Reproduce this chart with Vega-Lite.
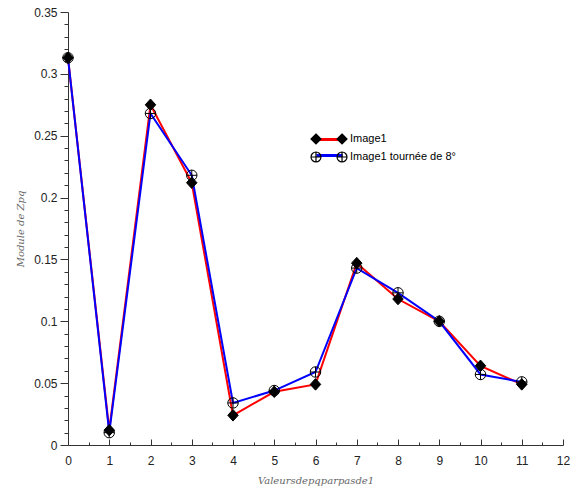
{
  "$schema": "https://vega.github.io/schema/vega-lite/v6.json",
  "width": 495,
  "height": 433,
  "autosize": {"type": "none"},
  "padding": {"left": 68, "top": 12, "right": 13, "bottom": 45},
  "background": "white",
  "config": {
    "view": {"stroke": null},
    "font": "Liberation Sans",
    "axis": {"grid": false, "domainColor": "#333333", "tickColor": "#333333", "labelColor": "#222222", "labelFont": "Liberation Sans", "labelFontSize": 12}
  },
  "data": {
    "values": [
      {"p": 0, "module": 0.313, "serie": "Image1"},
      {"p": 1, "module": 0.012, "serie": "Image1"},
      {"p": 2, "module": 0.275, "serie": "Image1"},
      {"p": 3, "module": 0.212, "serie": "Image1"},
      {"p": 4, "module": 0.024, "serie": "Image1"},
      {"p": 5, "module": 0.043, "serie": "Image1"},
      {"p": 6, "module": 0.049, "serie": "Image1"},
      {"p": 7, "module": 0.147, "serie": "Image1"},
      {"p": 8, "module": 0.118, "serie": "Image1"},
      {"p": 9, "module": 0.100, "serie": "Image1"},
      {"p": 10, "module": 0.064, "serie": "Image1"},
      {"p": 11, "module": 0.049, "serie": "Image1"},
      {"p": 0, "module": 0.313, "serie": "Image1 tournée de 8°"},
      {"p": 1, "module": 0.010, "serie": "Image1 tournée de 8°"},
      {"p": 2, "module": 0.268, "serie": "Image1 tournée de 8°"},
      {"p": 3, "module": 0.218, "serie": "Image1 tournée de 8°"},
      {"p": 4, "module": 0.034, "serie": "Image1 tournée de 8°"},
      {"p": 5, "module": 0.044, "serie": "Image1 tournée de 8°"},
      {"p": 6, "module": 0.059, "serie": "Image1 tournée de 8°"},
      {"p": 7, "module": 0.143, "serie": "Image1 tournée de 8°"},
      {"p": 8, "module": 0.123, "serie": "Image1 tournée de 8°"},
      {"p": 9, "module": 0.100, "serie": "Image1 tournée de 8°"},
      {"p": 10, "module": 0.057, "serie": "Image1 tournée de 8°"},
      {"p": 11, "module": 0.051, "serie": "Image1 tournée de 8°"}
    ]
  },
  "resolve": {"axis": {"x": "independent", "y": "independent"}},
  "layer": [
    {
      "mark": {"type": "line", "strokeWidth": 2},
      "encoding": {
        "x": {"field": "p", "type": "quantitative", "scale": {"domain": [0, 12], "nice": false},
          "axis": {"orient": "bottom", "values": [0,1,2,3,4,5,6,7,8,9,10,11,12], "tickSize": -6, "labelPadding": 16, "labelFlush": false,
            "title": "Valeursdepqparpasde1", "titleFont": "DejaVu Serif", "titleFontStyle": "italic", "titleFontWeight": "normal", "titleFontSize": 10, "titleColor": "#666666", "titlePadding": 9}},
        "y": {"field": "module", "type": "quantitative", "scale": {"domain": [0, 0.35], "nice": false},
          "axis": {"orient": "left", "values": [0, 0.05, 0.1, 0.15, 0.2, 0.25, 0.3, 0.35], "tickSize": 8, "labelPadding": 3,
            "labelFlush": false, "format": "~g",
            "title": "Module de Zpq", "titleFont": "DejaVu Serif", "titleFontStyle": "italic", "titleFontWeight": "normal", "titleFontSize": 10, "titleColor": "#666666", "titlePadding": 8}},
        "color": {"field": "serie", "type": "nominal",
          "scale": {"domain": ["Image1", "Image1 tournée de 8°"], "range": ["#ff0000", "#0000ff"]},
          "legend": {"orient": "none", "legendX": 254, "legendY": 120, "title": null, "padding": 0,
            "symbolType": "M-2.17,0L2.17,0", "symbolSize": 144, "symbolStrokeWidth": 3,
            "labelFontSize": 11, "labelColor": "rgba(0,0,0,0)", "labelOffset": 14, "rowPadding": 2}}
      }
    },
    {
      "mark": {"type": "point", "strokeWidth": 1, "opacity": 1},
      "encoding": {
        "x": {"field": "p", "type": "quantitative", "axis": null},
        "y": {"field": "module", "type": "quantitative", "axis": null},
        "shape": {"condition": {"test": "datum.serie === 'Image1'", "value": "M0,-1.1L1,0L0,1.1L-1,0Z"}, "value": "M-1,0A1,1 0 1,1 1,0A1,1 0 1,1 -1,0ZM-1,0L1,0M0,-1L0,1"},
        "fill": {"condition": {"test": "datum.serie === 'Image1'", "value": "#000000"}, "value": "rgba(255,255,255,0)"},
        "stroke": {"value": "#000000"},
        "size": {"value": 110}
      }
    },
    {
      "mark": {"type": "point", "opacity": 0, "filled": false},
      "encoding": {
        "x": {"field": "p", "type": "quantitative",
          "axis": {"orient": "bottom", "values": [0.5,1.5,2.5,3.5,4.5,5.5,6.5,7.5,8.5,9.5,10.5,11.5], "tickSize": -3, "labels": false, "domain": false, "title": null}},
        "y": {"field": "module", "type": "quantitative",
          "axis": {"orient": "left", "values": [0.01,0.02,0.03,0.04,0.06,0.07,0.08,0.09,0.11,0.12,0.13,0.14,0.16,0.17,0.18,0.19,0.21,0.22,0.23,0.24,0.26,0.27,0.28,0.29,0.31,0.32,0.33,0.34], "tickSize": 4, "labels": false, "domain": false, "title": null}},
        "shape": {"field": "serie", "type": "nominal",
          "scale": {"range": [
            "M-2.17,-0.83L-1.34,0L-2.17,0.83L-3,0ZM-2.17,-0.66L-1.51,0L-2.17,0.66L-2.83,0ZM-2.17,-0.5L-1.67,0L-2.17,0.5L-2.67,0ZM-2.17,-0.33L-1.84,0L-2.17,0.33L-2.5,0ZM-2.17,-0.17L-2,0L-2.17,0.17L-2.34,0ZM2.17,-0.83L3,0L2.17,0.83L1.34,0ZM2.17,-0.66L2.83,0L2.17,0.66L1.51,0ZM2.17,-0.5L2.67,0L2.17,0.5L1.67,0ZM2.17,-0.33L2.5,0L2.17,0.33L1.84,0ZM2.17,-0.17L2.34,0L2.17,0.17L2,0Z",
            "M-3,0A0.83,0.83 0 1,1 -1.34,0A0.83,0.83 0 1,1 -3,0ZM-3,0L-1.34,0M-2.17,-0.83L-2.17,0.83M1.34,0A0.83,0.83 0 1,1 3,0A0.83,0.83 0 1,1 1.34,0ZM1.34,0L3,0M2.17,-0.83L2.17,0.83"]},
          "legend": {"orient": "none", "legendX": 254, "legendY": 120, "title": null, "padding": 0,
            "symbolSize": 144, "symbolStrokeWidth": 1.2, "symbolOpacity": 1, "symbolStrokeColor": "#000000", "symbolFillColor": "rgba(255,255,255,0)",
            "labelFontSize": 11, "labelColor": "#000000", "labelOffset": 14, "rowPadding": 2}}
      }
    }
  ]
}
